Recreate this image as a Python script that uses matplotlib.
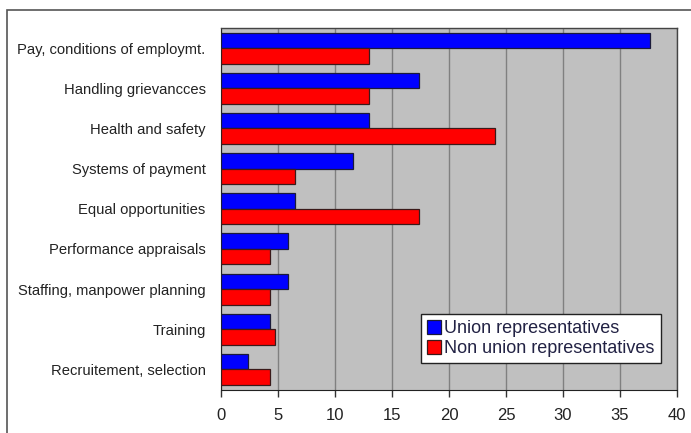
import matplotlib
matplotlib.use("Agg")
import matplotlib.pyplot as plt
import numpy as np
from matplotlib.patches import Rectangle

categories = ["Pay, conditions of employmt.", "Handling grievancces", "Health and safety",
              "Systems of payment", "Equal opportunities", "Performance appraisals",
              "Staffing, manpower planning", "Training", "Recruitement, selection"]
union = [37.6, 17.4, 13.0, 11.6, 6.5, 5.9, 5.9, 4.3, 2.4]
non_union = [13.0, 13.0, 24.0, 6.5, 17.4, 4.3, 4.3, 4.7, 4.3]
series_names = ["Union representatives", "Non union representatives"]
xticks = [0, 5, 10, 15, 20, 25, 30, 35, 40]

plt.rcParams['font.family'] = ['Liberation Sans', 'DejaVu Sans']

W, H = 691, 433
fig = plt.figure(figsize=(W / 100, H / 100), dpi=100)
fig.patch.set_facecolor("white")

# outer frame
fig.add_artist(Rectangle((7 / W, -0.05), 1.1, (H - 10) / H + 0.05, transform=fig.transFigure,
                         fill=False, edgecolor="#555555", linewidth=1.2))

left, right, top, bottom = 221, 677, 28, 389.5
ax = fig.add_axes([left / W, 1 - bottom / H, (right - left) / W, (bottom - top) / H])
ax.set_facecolor("#c0c0c0")

n = len(categories)
y = np.arange(n)
h = 0.385
ax.barh(y - h / 2, union, height=h, color="#0000ff", edgecolor="#1a1a3a", linewidth=0.9,
        label=series_names[0], zorder=3)
ax.barh(y + h / 2, non_union, height=h, color="#ff0000", edgecolor="#3a1a1a", linewidth=0.9,
        label=series_names[1], zorder=3)

ax.set_ylim(n - 0.5, -0.5)
ax.set_xlim(0, 40)
ax.set_xticks(xticks)
ax.set_yticks(y)
ax.set_yticklabels(categories, fontsize=10.6, color="#222222")
ax.tick_params(axis="y", length=0, pad=11)
ax.tick_params(axis="x", length=5, width=1, color="#333333", labelsize=12, pad=8,
               labelcolor="#222222")
ax.grid(axis="x", color="#808080", linewidth=1, zorder=0)
ax.set_axisbelow(True)
for s in ["top", "right"]:
    ax.spines[s].set_color("#444444")
    ax.spines[s].set_linewidth(1)
ax.spines["left"].set_color("#222222")
ax.spines["bottom"].set_color("#222222")

leg = ax.legend(loc="lower right", bbox_to_anchor=(0.965, 0.072), fontsize=13,
                frameon=True, fancybox=False, edgecolor="#222222", framealpha=1,
                handlelength=0.75, handleheight=0.8, handletextpad=0.2, borderpad=0.35,
                labelspacing=0.15, borderaxespad=0)
leg.get_frame().set_linewidth(1)
for t in leg.get_texts():
    t.set_color("#222244")

fig.savefig("out.png", dpi=100)
